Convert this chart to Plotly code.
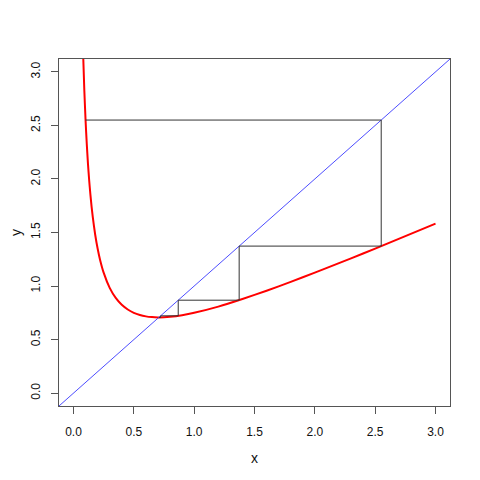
import plotly.graph_objects as go

# red curve
curve_x = [0.08, 0.09, 0.10, 0.11, 0.12, 0.13, 0.14, 0.15, 0.16, 0.18, 0.20, 0.22, 0.25, 0.30, 0.35,
           0.40, 0.45, 0.50, 0.55, 0.60, 0.65, 0.70, 0.75, 0.80, 0.90, 1.0, 1.2, 1.4, 1.6, 1.8, 2.0, 2.2,
           2.4, 2.6, 2.8, 3.0]
curve_y = [3.165, 2.823, 2.55, 2.328, 2.143, 1.988, 1.856, 1.742, 1.643, 1.479, 1.35, 1.246, 1.125, 0.983, 0.889,
           0.825, 0.781, 0.75, 0.730, 0.717, 0.710, 0.707, 0.708, 0.7125, 0.728, 0.75, 0.808, 0.879, 0.956, 1.039,
           1.125, 1.214, 1.304, 1.396, 1.489, 1.583]

# cobweb iterates
iterates = [0.1, 2.55, 1.373, 0.868, 0.722, 0.707, 0.7071]

# identity line
diag = [-1, 4]

tick_vals = [0.0, 0.5, 1.0, 1.5, 2.0, 2.5, 3.0]
tick_text = ["0.0", "0.5", "1.0", "1.5", "2.0", "2.5", "3.0"]

cob_x, cob_y = [], []
for i in range(len(iterates) - 1):
    a, b = iterates[i], iterates[i + 1]
    if i == 0:
        cob_x.append(a); cob_y.append(b)
    cob_x.append(b); cob_y.append(b)
    cob_x.append(b); cob_y.append(iterates[i + 2] if i + 2 < len(iterates) else b)

fig = go.Figure()
fig.add_trace(go.Scatter(x=curve_x, y=curve_y, mode="lines",
                         line=dict(color="#ff0000", width=2, shape="spline", smoothing=0.5)))
fig.add_trace(go.Scatter(x=diag, y=diag, mode="lines", line=dict(color="#4d4dff", width=1)))
fig.add_trace(go.Scatter(x=cob_x, y=cob_y, mode="lines", line=dict(color="#333333", width=1)))

axis_common = dict(
    range=[-0.12, 3.12], tickvals=tick_vals, ticktext=tick_text,
    showgrid=False, zeroline=False, showline=True, mirror=True,
    linecolor="#555555", linewidth=1, ticks="outside", ticklen=7,
    tickcolor="#555555", tickfont=dict(family="Liberation Sans, Arial", size=12, color="#111111"),
    automargin=False,
)

fig.update_layout(
    width=472, height=472,
    margin=dict(l=51, r=30, t=51, b=74),
    paper_bgcolor="white", plot_bgcolor="white",
    showlegend=False,
    font=dict(family="Liberation Sans, Arial", size=12, color="#111111"),
    xaxis=dict(**axis_common, title=dict(text="x", standoff=14), ticklabelstandoff=8),
    yaxis=dict(**axis_common, title=dict(text="y", standoff=18), tickangle=-90, ticklabelstandoff=6),
)

fig.write_html("out.html")
